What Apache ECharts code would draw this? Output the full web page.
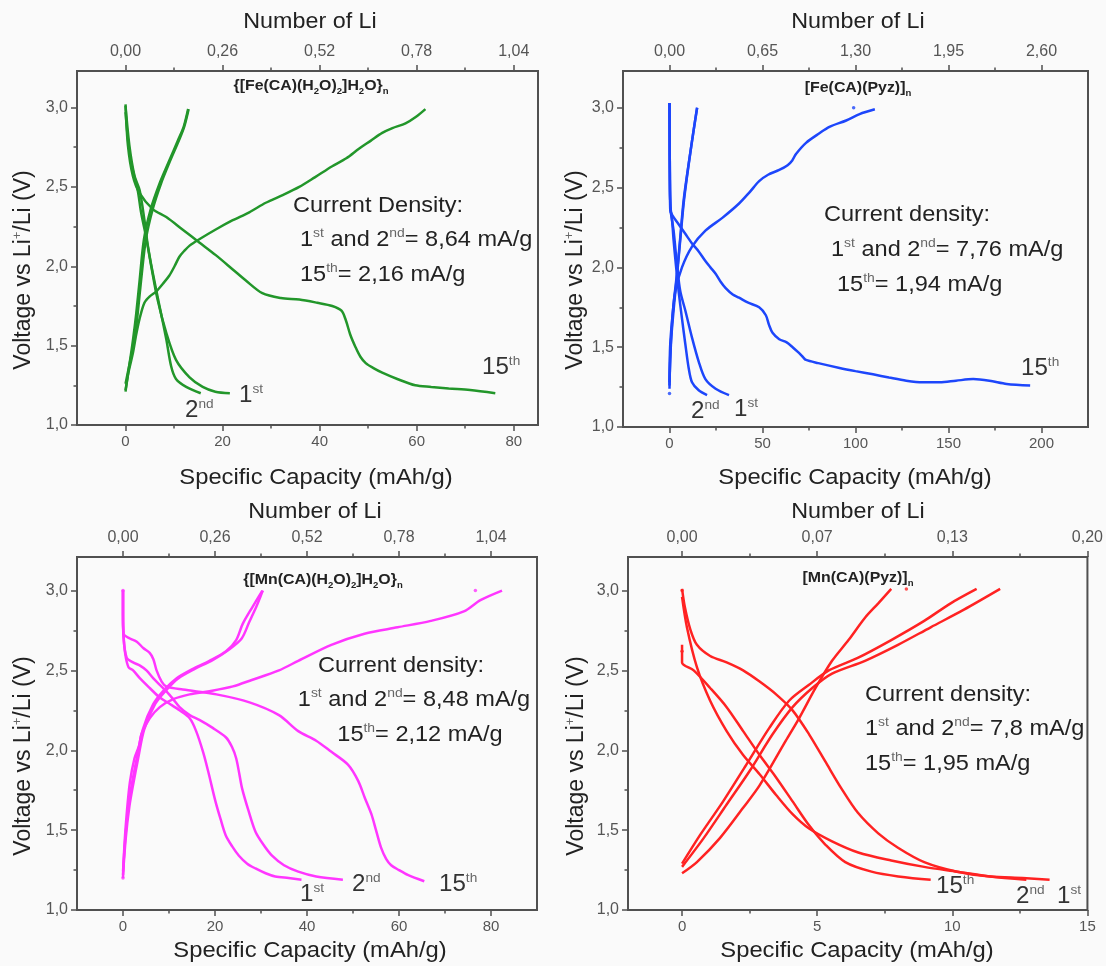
<!DOCTYPE html>
<html><head><meta charset="utf-8">
<script src="https://cdn.jsdelivr.net/npm/echarts@6/dist/echarts.min.js"></script>
<style>html,body{margin:0;padding:0;background:#fafafa}#c{width:1106px;height:966px}</style>
</head><body><div id="c"></div><script>
// ================= DATA =================
// ---- Panel 1: {[Fe(CA)(H2O)2]H2O}n  (green)
const p1_xMajor = [0, 20, 40, 60, 80];
const p1_xMinor = [10, 30, 50, 70];
const p1_xLabels = ['0', '20', '40', '60', '80'];
const p1_topLabels = ['0,00', '0,26', '0,52', '0,78', '1,04'];
const fe1_dis1 = [[0,2.97],[0.5,2.80],[1.16,2.65],[2.5,2.48],[3.2,2.34],[4.2,2.19],[5.3,2.0],[6.6,1.79],[8.4,1.58],[10.4,1.41],[13.2,1.30],[15.9,1.24],[18.5,1.21],[21.5,1.20]];
const fe1_dis2 = [[0,3.01],[0.8,2.76],[1.85,2.57],[2.9,2.48],[3.9,2.29],[4.6,2.13],[5.6,1.96],[7.0,1.75],[8.4,1.54],[9.4,1.37],[10.4,1.29],[12.5,1.24],[15.5,1.20]];
const fe1_dis15 = [[0,3.02],[0.5,2.76],[1.5,2.57],[2.9,2.46],[5.6,2.36],[8.4,2.31],[11.8,2.23],[15.2,2.15],[18.6,2.07],[22.1,1.98],[24.8,1.91],[28.2,1.83],[32,1.80],[35.8,1.79],[39.5,1.77],[42.6,1.75],[44.5,1.72],[45.4,1.66],[46.3,1.57],[47.4,1.49],[48.4,1.43],[49.5,1.39],[51,1.36],[52.9,1.33],[56,1.29],[59.7,1.25],[63,1.24],[66.6,1.23],[71,1.22],[76.2,1.20]];
const fe1_ch1 = [[0,1.26],[0.8,1.38],[1.85,1.54],[2.5,1.70],[3.2,1.91],[4.2,2.17],[5.6,2.36],[7.3,2.52],[9.0,2.65],[11.1,2.80],[12.1,2.88],[13.0,2.99]];
const fe1_ch2 = [[0,1.22],[0.9,1.40],[1.6,1.55],[2.2,1.70],[2.9,1.91],[3.8,2.17],[5.2,2.36],[7.0,2.52],[8.8,2.65],[10.9,2.80],[12.0,2.88],[12.9,2.99]];
const fe1_ch15 = [[0,1.21],[0.6,1.33],[1.5,1.45],[2.2,1.57],[2.9,1.67],[3.9,1.77],[5,1.81],[6.3,1.84],[7.7,1.89],[9.0,1.94],[10.1,2.0],[11.1,2.06],[12.2,2.10],[13.2,2.13],[15.2,2.17],[18.5,2.23],[22.1,2.29],[25.5,2.34],[28.9,2.40],[32.5,2.45],[35.8,2.50],[39,2.56],[42.6,2.63],[45.5,2.68],[48.1,2.74],[50.5,2.79],[52.9,2.84],[55,2.87],[57.7,2.90],[59.8,2.94],[61.8,2.99]];
const fe1_dots = [];

// ---- Panel 2: [Fe(CA)(Pyz)]n  (blue)
const p2_xMajor = [0, 50, 100, 150, 200];
const p2_xMinor = [25, 75, 125, 175];
const p2_xLabels = ['0', '50', '100', '150', '200'];
const p2_topLabels = ['0,00', '0,65', '1,30', '1,95', '2,60'];
const fe2_dis1 = [[0,3.03],[0.1,2.80],[0.2,2.6],[0.6,2.36],[2.2,2.23],[4.0,2.02],[5.8,1.85],[8.5,1.73],[12.1,1.56],[15.7,1.41],[19.3,1.30],[24.8,1.24],[32,1.20]];
const fe2_dis2 = [[0,3.03],[0.1,2.80],[0.2,2.6],[0.5,2.38],[1.3,2.31],[2.2,2.17],[3.4,2.02],[4.9,1.85],[6.7,1.68],[8.5,1.52],[10.3,1.37],[12.1,1.28],[15.7,1.23],[20.2,1.20]];
const fe2_dis15 = [[0,3.03],[0.1,2.70],[0.4,2.36],[1.3,2.33],[4.9,2.27],[8.5,2.21],[12.1,2.15],[15.7,2.10],[19.3,2.04],[22,2.0],[24.8,1.96],[27.5,1.91],[30.2,1.87],[34,1.83],[37.4,1.81],[42,1.78],[48.2,1.75],[51.8,1.70],[53.5,1.64],[55.4,1.59],[59,1.55],[63,1.53],[66.2,1.50],[69,1.47],[71.6,1.44],[73.4,1.42],[80,1.40],[91.4,1.37],[100,1.35],[109.4,1.33],[118,1.31],[127.3,1.29],[136,1.28],[145.3,1.28],[154,1.29],[163.3,1.30],[172,1.29],[181.3,1.27],[193.9,1.26]];
const fe2_ch1 = [[0,1.26],[0.4,1.52],[2.2,1.77],[4.0,1.96],[5.8,2.19],[7.6,2.42],[10.3,2.65],[13,2.86],[14.8,3.0]];
const fe2_ch2 = [[0,1.24],[0.6,1.50],[2.5,1.77],[4.3,1.98],[6.0,2.20],[7.9,2.43],[10.5,2.66],[13.1,2.87],[14.9,3.0]];
const fe2_ch15 = [[0,1.28],[1.3,1.64],[3.1,1.85],[6.7,2.0],[12.1,2.13],[19.3,2.23],[28.4,2.31],[37.4,2.40],[43,2.47],[48.2,2.54],[53,2.58],[59,2.61],[63.5,2.64],[66,2.67],[68,2.71],[73.4,2.78],[80.6,2.84],[86,2.88],[95,2.92],[102.2,2.96],[110.4,2.99]];
const fe2_dots = [[99, 3.0], [0, 1.21]];

// ---- Panel 3: {[Mn(CA)(H2O)2]H2O}n  (magenta)
const p3_xMajor = [0, 20, 40, 60, 80];
const p3_xMinor = [10, 30, 50, 70];
const p3_xLabels = ['0', '20', '40', '60', '80'];
const p3_topLabels = ['0,00', '0,26', '0,52', '0,78', '1,04'];
const mn1_dis1 = [[0,3.0],[0,2.85],[0.1,2.73],[0.5,2.60],[1.2,2.52],[2.2,2.50],[3.7,2.45],[5.8,2.39],[8.0,2.33],[10.2,2.29],[12.3,2.25],[14.5,2.20],[15.9,2.12],[17.4,1.99],[18.5,1.87],[20.1,1.68],[21.2,1.57],[22.3,1.47],[23.7,1.40],[25.2,1.34],[27,1.29],[28.8,1.26],[31,1.23],[33.1,1.21],[36,1.20],[38.8,1.19]];
const mn1_dis2 = [[0,3.0],[0,2.85],[0.1,2.71],[0.8,2.58],[2.2,2.55],[3.7,2.53],[5.1,2.50],[6.6,2.45],[8.0,2.41],[9.4,2.37],[10.9,2.32],[12.3,2.27],[14.5,2.22],[16.6,2.19],[19.5,2.14],[22.4,2.08],[23.7,2.02],[24.6,1.95],[25.3,1.85],[25.9,1.76],[27.3,1.62],[28.8,1.49],[30.5,1.41],[32.4,1.34],[35,1.28],[38.1,1.24],[42,1.21],[47.8,1.19]];
const mn1_dis15 = [[0,3.0],[0,2.85],[0.1,2.73],[1.5,2.70],[3.0,2.68],[4.4,2.64],[5.8,2.61],[6.6,2.57],[7.3,2.50],[8.4,2.43],[9.4,2.40],[13.0,2.38],[20.3,2.35],[27.5,2.30],[33.9,2.22],[38.1,2.12],[42,2.06],[45.3,1.99],[48.9,1.91],[51.1,1.81],[52.6,1.70],[54,1.60],[55,1.50],[56.1,1.39],[57.2,1.32],[58.3,1.28],[60,1.25],[61.9,1.22],[65.5,1.18]];
const mn1_ch1 = [[0,1.24],[0.5,1.45],[1.2,1.65],[2.0,1.80],[3.0,1.95],[4.3,2.13],[6.6,2.29],[9.0,2.38],[11.6,2.45],[15.2,2.51],[18.8,2.56],[22.4,2.62],[24.6,2.69],[26.0,2.79],[28.2,2.90],[30.3,3.0]];
const mn1_ch2 = [[0,1.22],[0.6,1.45],[1.4,1.65],[2.3,1.80],[3.3,1.95],[4.6,2.13],[7.0,2.29],[9.5,2.38],[12.0,2.45],[15.6,2.51],[19.2,2.56],[23.0,2.63],[25.8,2.70],[27.4,2.80],[29.0,2.90],[30.4,3.0]];
const mn1_ch15 = [[0,1.20],[0.3,1.40],[0.8,1.60],[1.5,1.80],[2.5,1.95],[3.5,2.03],[4.0,2.10],[5.8,2.20],[8.0,2.27],[10.9,2.32],[14.5,2.35],[18.8,2.37],[23.9,2.40],[28,2.44],[33.9,2.50],[38.1,2.56],[45.3,2.66],[52.5,2.73],[59.7,2.77],[66.9,2.81],[74.1,2.87],[77.7,2.94],[82.4,3.0]];
const mn1_dots = [[76.6, 3.0], [0, 3.0], [0, 1.2]];

// ---- Panel 4: [Mn(CA)(Pyz)]n  (red)
const p4_xMajor = [0, 5, 10, 15];
const p4_xMinor = [2.5, 7.5, 12.5];
const p4_xLabels = ['0', '5', '10', '15'];
const p4_topLabels = ['0,00', '0,07', '0,13', '0,20'];
const mn2_dis1 = [[0,3.01],[0.1,2.90],[0.3,2.76],[0.55,2.66],[1.04,2.59],[1.65,2.55],[2.26,2.50],[2.87,2.43],[3.48,2.35],[4.09,2.25],[4.7,2.10],[5.3,1.93],[5.9,1.76],[6.5,1.61],[7.26,1.48],[7.99,1.39],[8.96,1.30],[10.18,1.24],[11.4,1.21],[12.6,1.20],[13.6,1.19]];
const mn2_dis2 = [[0,2.96],[0.18,2.77],[0.55,2.52],[1.04,2.31],[1.65,2.12],[2.26,1.97],[2.87,1.85],[3.48,1.72],[4.09,1.60],[4.7,1.51],[5.55,1.43],[6.52,1.36],[7.74,1.31],[8.96,1.27],[10.18,1.24],[11.4,1.21],[12.74,1.19]];
const mn2_dis15 = [[0,2.66],[0,2.55],[0.43,2.50],[1.04,2.39],[1.65,2.27],[2.26,2.12],[2.87,1.97],[3.48,1.83],[4.09,1.68],[4.7,1.53],[5.3,1.41],[6.04,1.30],[7.01,1.24],[8.0,1.21],[9.2,1.19]];
const mn2_ch1 = [[0,1.27],[0.8,1.45],[1.65,1.66],[2.5,1.87],[3.35,2.10],[4.09,2.27],[4.82,2.39],[5.55,2.48],[6.77,2.56],[7.99,2.66],[9.2,2.77],[10.43,2.88],[11.77,3.01]];
const mn2_ch2 = [[0,1.29],[0.67,1.47],[1.52,1.68],[2.38,1.91],[3.23,2.14],[3.96,2.31],[4.7,2.41],[5.43,2.50],[6.52,2.58],[7.74,2.69],[8.96,2.81],[9.94,2.92],[10.9,3.01]];
const mn2_ch15 = [[0,1.23],[0.55,1.30],[1.4,1.45],[2.26,1.64],[2.87,1.78],[3.84,2.06],[4.33,2.20],[4.94,2.39],[5.55,2.56],[6.16,2.69],[6.77,2.83],[7.26,2.92],[7.74,3.01]];
const mn2_dots = [[8.3, 3.01], [0, 3.0], [0, 2.62]];

// ---- shared y axis ticks
const yMajor = [1.0, 1.5, 2.0, 2.5, 3.0];
const yMinor = [1.25, 1.75, 2.25, 2.75];
const yLabels = ['1,0', '1,5', '2,0', '2,5', '3,0'];

// ---- texts
const titles = ['{[Fe(CA)(H{b|2}O){b|2}]H{b|2}O}{b|n}', '[Fe(CA)(Pyz)]{b|n}', '{[Mn(CA)(H{b|2}O){b|2}]H{b|2}O}{b|n}', '[Mn(CA)(Pyz)]{b|n}'];
const notes = [
  ['Current Density:', '1{s|st} and 2{s|nd}= 8,64 mA/g', '15{s|th}= 2,16 mA/g'],
  ['Current density:', '1{s|st} and 2{s|nd}= 7,76 mA/g', '15{s|th}= 1,94 mA/g'],
  ['Current density:', '1{s|st} and 2{s|nd}= 8,48 mA/g', '15{s|th}= 2,12 mA/g'],
  ['Current density:', '1{s|st} and 2{s|nd}= 7,8 mA/g', '15{s|th}= 1,95 mA/g']
];
const cycleLabels = ['1{s|st}', '2{s|nd}', '15{s|th}'];
const xName = 'Specific Capacity (mAh/g)';
const topName = 'Number of Li';
const yName = 'Voltage vs Li{s|+}/Li (V)';

// ================= LAYOUT / STYLE =================
const FONT = "'Liberation Sans', Arial, Helvetica, sans-serif";
const AXC = '#505050', TICKC = '#555555', TXT = '#222222';
const panels = [
  { grid: {left: 77, top: 71, width: 461, height: 354}, xmin: -10, xmax: 85, ymax: 3.23, color: '#22962a',
    xMajor: p1_xMajor, xMinor: p1_xMinor, xLabels: p1_xLabels, topLabels: p1_topLabels,
    curves: [fe1_dis1, fe1_dis2, fe1_dis15, fe1_ch1, fe1_ch2, fe1_ch15], dots: fe1_dots,
    titlePos: [311, 86], topNamePos: [310, 22], xNamePos: [316, 478], yNamePos: [24, 270],
    notePos: [[293, 206], [300, 240], [300, 275]], noteAlign: 'left',
    cyclePos: [[239, 396], [185, 411], [482, 368]] },
  { grid: {left: 623, top: 71, width: 465, height: 356}, xmin: -25, xmax: 225, ymax: 3.23, color: '#1d46fb',
    xMajor: p2_xMajor, xMinor: p2_xMinor, xLabels: p2_xLabels, topLabels: p2_topLabels,
    curves: [fe2_dis1, fe2_dis2, fe2_dis15, fe2_ch1, fe2_ch2, fe2_ch15], dots: fe2_dots,
    titlePos: [858, 88], topNamePos: [858, 22], xNamePos: [855, 478], yNamePos: [576, 270],
    notePos: [[824, 215], [831, 250], [837, 285]], noteAlign: 'left',
    cyclePos: [[734, 410], [691, 412], [1021, 369]] },
  { grid: {left: 77, top: 557, width: 460, height: 353}, xmin: -10, xmax: 90, ymax: 3.21, color: '#ff36ff',
    xMajor: p3_xMajor, xMinor: p3_xMinor, xLabels: p3_xLabels, topLabels: p3_topLabels,
    curves: [mn1_dis1, mn1_dis2, mn1_dis15, mn1_ch1, mn1_ch2, mn1_ch15], dots: mn1_dots,
    titlePos: [323, 580], topNamePos: [315, 512], xNamePos: [310, 951], yNamePos: [24, 756],
    notePos: [[401, 666], [414, 700], [420, 735]], noteAlign: 'center',
    cyclePos: [[300, 895], [352, 885], [439, 885]] },
  { grid: {left: 628, top: 557, width: 462, height: 353}, xmin: -2, xmax: 15, ymax: 3.21, color: '#ff2222',
    xMajor: p4_xMajor, xMinor: p4_xMinor, xLabels: p4_xLabels, topLabels: p4_topLabels,
    curves: [mn2_dis1, mn2_dis2, mn2_dis15, mn2_ch1, mn2_ch2, mn2_ch15], dots: mn2_dots,
    titlePos: [858, 578], topNamePos: [858, 512], xNamePos: [857, 951], yNamePos: [577, 756],
    notePos: [[865, 695], [865, 729], [865, 764]], noteAlign: 'left',
    cyclePos: [[1057, 897], [1016, 897], [936, 887]] }
];

const supRich = { s: { fontSize: 13, fontFamily: FONT, fill: '#666', verticalAlign: 'top', lineHeight: 13 } };
function txt(x, y, text, o) {
  o = o || {};
  const st = {
    text: text, fontFamily: FONT, fontSize: o.size || 22, fontWeight: o.weight || 'normal',
    fill: o.fill || TXT, lineHeight: o.lh || 26,
    align: o.align || 'center', textAlign: o.align || 'center',
    verticalAlign: 'middle', textVerticalAlign: 'middle',
    rich: o.rich || supRich
  };
  return { type: 'text', x: x, y: y, rotation: o.rot || 0, scaleX: o.sx || 1, style: st, z: 10, silent: true };
}

const grids = [], xAxes = [], yAxes = [], series = [], graphics = [];
const tickLine = { color: AXC, width: 1.5 };
const noLine = { show: false, onZero: false };
panels.forEach((p, i) => {
  grids.push(Object.assign({ show: true, borderColor: AXC, borderWidth: 2, backgroundColor: 'rgba(0,0,0,0)', containLabel: false }, p.grid));
  const base = { gridIndex: i, type: 'value', min: p.xmin, max: p.xmax, splitLine: { show: false }, axisLine: noLine };
  const xi = xAxes.length;
  xAxes.push(Object.assign({}, base, { position: 'bottom',
    axisTick: { show: true, length: 6, lineStyle: tickLine, customValues: p.xMajor },
    axisLabel: { show: true, customValues: p.xMajor, formatter: v => p.xLabels[p.xMajor.indexOf(v)], margin: 9, color: TICKC, fontSize: 15, fontFamily: FONT } }));
  xAxes.push(Object.assign({}, base, { position: 'bottom',
    axisTick: { show: true, length: 3.5, lineStyle: tickLine, customValues: p.xMinor }, axisLabel: { show: false } }));
  xAxes.push(Object.assign({}, base, { position: 'top',
    axisTick: { show: true, length: 6, lineStyle: tickLine, customValues: p.xMajor },
    axisLabel: { show: true, customValues: p.xMajor, formatter: v => p.topLabels[p.xMajor.indexOf(v)], margin: 11, color: TICKC, fontSize: 16, fontFamily: FONT } }));
  xAxes.push(Object.assign({}, base, { position: 'top',
    axisTick: { show: true, length: 3.5, lineStyle: tickLine, customValues: p.xMinor }, axisLabel: { show: false } }));
  const ybase = { gridIndex: i, type: 'value', min: 1.0, max: p.ymax, position: 'left', splitLine: { show: false }, axisLine: noLine };
  const yi = yAxes.length;
  yAxes.push(Object.assign({}, ybase, {
    axisTick: { show: true, length: 6, lineStyle: tickLine, customValues: yMajor },
    axisLabel: { show: true, customValues: yMajor, formatter: v => yLabels[yMajor.indexOf(v)], margin: 9, color: TICKC, fontSize: 16, fontFamily: FONT } }));
  yAxes.push(Object.assign({}, ybase, {
    axisTick: { show: true, length: 3.5, lineStyle: tickLine, customValues: yMinor }, axisLabel: { show: false } }));

  p.curves.forEach(d => series.push({ type: 'line', xAxisIndex: xi, yAxisIndex: yi, data: d, showSymbol: false, smooth: 0.3,
    lineStyle: { color: p.color, width: 2.5 }, itemStyle: { color: p.color }, animation: false, silent: true, z: 3 }));
  if (p.dots.length) series.push({ type: 'scatter', xAxisIndex: xi, yAxisIndex: yi, data: p.dots, symbolSize: 3.5,
    itemStyle: { color: p.color }, animation: false, silent: true });

  // texts
  graphics.push(txt(p.titlePos[0], p.titlePos[1], titles[i], { size: 15, weight: 'bold', lh: 20, sx: 1.06,
    rich: { b: { fontSize: 9, fontWeight: 'bold', fontFamily: FONT, fill: TXT, verticalAlign: 'bottom', lineHeight: 10 } } }));
  graphics.push(txt(p.topNamePos[0], p.topNamePos[1], topName, { size: 22, sx: 1.06 }));
  graphics.push(txt(p.xNamePos[0], p.xNamePos[1], xName, { size: 22, sx: 1.08 }));
  graphics.push(txt(p.yNamePos[0], p.yNamePos[1], yName, { size: 23, rot: Math.PI / 2 }));
  notes[i].forEach((line, k) => graphics.push(txt(p.notePos[k][0], p.notePos[k][1], line, { size: 22, align: p.noteAlign, sx: 1.07 })));
  cycleLabels.forEach((lab, k) => graphics.push(txt(p.cyclePos[k][0], p.cyclePos[k][1], lab, { size: 23, align: 'left', fill: '#333', sx: 1.05 })));
});

const chart = echarts.init(document.getElementById('c'), null, { renderer: 'canvas' });
chart.setOption({
  backgroundColor: '#fafafa',
  animation: false,
  grid: grids, xAxis: xAxes, yAxis: yAxes, series: series, graphic: graphics
});
</script></body></html>
